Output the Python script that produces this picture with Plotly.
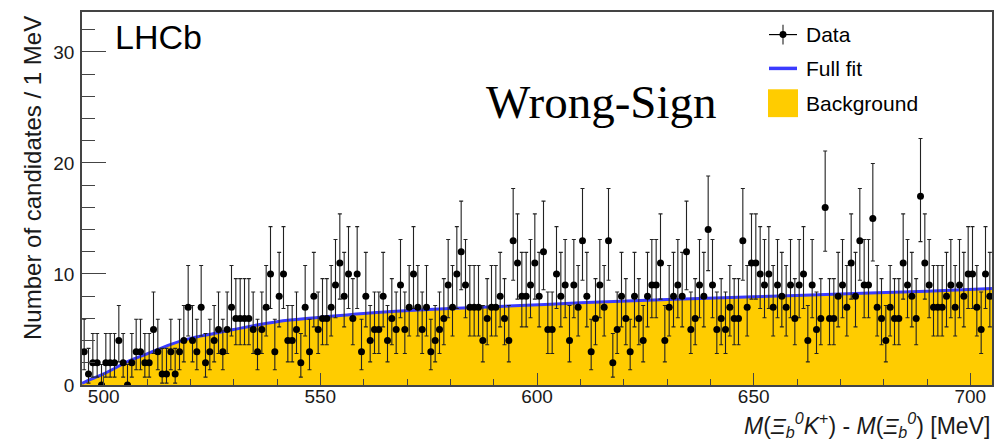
import math
import plotly.graph_objects as go

# ---------------- data ----------------
# candidates per 1 MeV bin, bins starting at 495 MeV
counts = [3, 1, 2, 2, 0, 2, 2, 2, 4, 2,
          0, 2, 3, 3, 2, 2, 5, 3, 1, 1,
          3, 1, 3, 4, 7, 4, 3, 7, 2, 3,
          4, 5, 3, 5, 7, 6, 6, 6, 6, 5,
          3, 5, 7, 10, 3, 8, 10, 4, 4, 5,
          2, 7, 3, 8, 5, 6, 6, 7, 9, 11,
          8, 10, 6, 10, 3, 8, 4, 5, 5, 8,
          4, 6, 5, 9, 5, 7, 10, 7, 5, 7,
          3, 4, 5, 6, 9, 7, 10, 12, 9, 7,
          7, 7, 4, 6, 7, 7, 8, 6, 4, 13,
          11, 8, 8, 9, 11, 8, 12, 5, 5, 10,
          8, 9, 4, 9, 7, 13, 8, 3, 6, 9,
          7, 13, 2, 5, 8, 6, 3, 8, 6, 4,
          8, 9, 9, 11, 4, 7, 8, 9, 8, 12,
          5, 6, 9, 8, 14, 9, 5, 6, 5, 7,
          6, 6, 13, 7, 11, 11, 10, 9, 10, 7,
          9, 8, 7, 9, 6, 9, 10, 4, 9, 5,
          6, 16, 6, 6, 8, 9, 7, 11, 8, 13,
          9, 9, 15, 7, 6, 4, 7, 6, 6, 11,
          9, 8, 6, 17, 11, 9, 7, 7, 7, 8,
          9, 7, 9, 8, 10, 10, 7, 5, 10, 8]
mass_start = 495.0
bin_width = 1.0

# fit curve
fit_mass = [495, 497, 500, 503, 506, 510, 515, 520, 525, 530, 540, 550,
            560, 575, 590, 610, 630, 650, 670, 690, 705]
fit_vals = [0.15, 0.5, 1.0, 1.6, 2.2, 2.8, 3.6, 4.2, 4.6, 5.0, 5.7, 6.1,
            6.45, 6.8, 7.05, 7.4, 7.7, 7.95, 8.2, 8.45, 8.7]
bkg_vals = fit_vals

x_range = [495, 705]
y_range = [0, 33.6]
x_ticks = [500, 550, 600, 650, 700]
y_ticks = [0, 10, 20, 30]

mass = [mass_start + bin_width * (i + 0.5) for i in range(len(counts))]


# Poisson (Garwood) 68.27% intervals for the data points
def pois_cdf(k, mu):
    if k < 0:
        return 0.0
    term = math.exp(-mu)
    s = term
    for j in range(1, k + 1):
        term *= mu / j
        s += term
    return s


def bisect(f, lo, hi):
    for _ in range(100):
        mid = 0.5 * (lo + hi)
        if f(lo) * f(mid) <= 0:
            hi = mid
        else:
            lo = mid
    return 0.5 * (lo + hi)


alpha = 0.5 * (1 - 0.6826895)
err_up, err_lo = [], []
for n in counts:
    U = bisect(lambda m: pois_cdf(n, m) - alpha, n, n + 20 + 6 * math.sqrt(n + 1))
    err_up.append(U - n)
    if n == 0:
        err_lo.append(0.0)
    else:
        L = bisect(lambda m: pois_cdf(n - 1, m) - (1 - alpha), 1e-9, n)
        err_lo.append(n - L)

YELLOW = "#FFCC00"
BLUE = "#3b3bff"
FRAME = "#444444"
TXT = "#1a1a1a"
SANS = "Liberation Sans, Arial, Helvetica, sans-serif"

fig = go.Figure()
fig.add_trace(go.Scatter(x=fit_mass, y=bkg_vals, mode="lines", line=dict(width=0, shape="spline"),
                         fill="tozeroy", fillcolor=YELLOW, name="Background"))
fig.add_trace(go.Scatter(x=fit_mass, y=fit_vals, mode="lines",
                         line=dict(color=BLUE, width=3, shape="spline"), name="Full fit"))
fig.add_trace(go.Scatter(x=mass, y=counts, mode="markers",
                         marker=dict(color="black", size=7),
                         error_y=dict(type="data", symmetric=False, array=err_up, arrayminus=err_lo,
                                      color="#222222", thickness=1.1, width=2),
                         name="Data"))

# plot-area geometry in pixels (for decorations)
L0, R0, T0, B0 = 82, 992, 10, 385


def px(x):
    return (x - L0) / (R0 - L0)


def py(y):
    return (B0 - y) / (B0 - T0)


shapes = []
ann = []
# legend (manual, ROOT-style)
leg_x0, leg_x1, text_x = 769, 797, 804
rows = [32.7, 66.7, 101.7]
# Data symbol: cross + dot
shapes.append(dict(type="line", xref="paper", yref="paper", x0=px(leg_x0), x1=px(leg_x1),
                   y0=py(rows[0]), y1=py(rows[0]), line=dict(color="black", width=1.2)))
shapes.append(dict(type="line", xref="paper", yref="paper", x0=px(783), x1=px(783),
                   y0=py(rows[0] - 10), y1=py(rows[0] + 10), line=dict(color="#333", width=1.2)))
shapes.append(dict(type="circle", xref="paper", yref="paper", x0=px(779.5), x1=px(786.5),
                   y0=py(rows[0] - 3.5), y1=py(rows[0] + 3.5), fillcolor="black",
                   line=dict(color="black", width=0)))
# Full fit symbol
shapes.append(dict(type="line", xref="paper", yref="paper", x0=px(leg_x0), x1=px(leg_x1),
                   y0=py(rows[1]), y1=py(rows[1]), line=dict(color=BLUE, width=3.5)))
# Background symbol
shapes.append(dict(type="rect", xref="paper", yref="paper", x0=px(768), x1=px(798),
                   y0=py(rows[2] - 14), y1=py(rows[2] + 14), fillcolor=YELLOW,
                   line=dict(color=YELLOW, width=0)))
for label, yy in zip(["Data", "Full fit", "Background"], rows):
    ann.append(dict(text=label, xref="paper", yref="paper", x=px(text_x), y=py(yy),
                    xanchor="left", yanchor="middle", showarrow=False,
                    font=dict(family=SANS, size=21, color="black")))

# LHCb label
ann.append(dict(text="LHCb", xref="paper", yref="paper", x=px(113), y=py(35),
                xanchor="left", yanchor="middle", showarrow=False,
                font=dict(family=SANS, size=34, color="black")))
# Wrong-Sign
ann.append(dict(text="Wrong-Sign", xref="paper", yref="paper", x=px(601), y=py(100),
                xanchor="center", yanchor="middle", showarrow=False,
                font=dict(family="Liberation Serif, Times New Roman, serif", size=47, color="black")))
# axis titles
ann.append(dict(text="Number of candidates / 1 MeV", xref="paper", yref="paper",
                x=px(33), y=py(12), xanchor="center", yanchor="top", textangle=-90,
                showarrow=False, font=dict(family=SANS, size=24, color=TXT)))
ann.append(dict(text="<i>M</i>(<i>Ξ</i><sub><i>b</i></sub><sup><i>0</i></sup><i>K</i><sup>+</sup>)"
                     " - <i>M</i>(<i>Ξ</i><sub><i>b</i></sub><sup><i>0</i></sup>) [MeV]",
                xref="paper", yref="paper", x=1.0, y=py(425), xanchor="right", yanchor="middle",
                showarrow=False, font=dict(family=SANS, size=23, color=TXT)))

fig.update_layout(
    width=1007, height=442,
    margin=dict(l=L0, r=1007 - R0, t=T0, b=442 - B0),
    plot_bgcolor="white", paper_bgcolor="white",
    showlegend=False,
    shapes=shapes, annotations=ann,
    font=dict(family=SANS, color=TXT),
)
fig.update_xaxes(range=x_range, tickvals=x_ticks, ticks="inside", ticklen=12, tickwidth=1.2,
                 tickcolor=FRAME, showline=True, linecolor=FRAME, linewidth=1.5, mirror=True,
                 showgrid=False, zeroline=False, tickfont=dict(size=19, color=TXT),
                 ticklabelstandoff=-7,
                 minor=dict(dtick=10, tick0=500, ticks="inside", ticklen=6, tickcolor=FRAME, tickwidth=1.2,
                            showgrid=False))
fig.update_yaxes(range=y_range, tickvals=y_ticks, ticks="inside", ticklen=24, tickwidth=1.2,
                 tickcolor=FRAME, showline=True, linecolor=FRAME, linewidth=1.5, mirror=True,
                 showgrid=False, zeroline=False, tickfont=dict(size=19, color=TXT),
                 ticklabelstandoff=2,
                 minor=dict(dtick=2, tick0=0, ticks="inside", ticklen=13, tickcolor=FRAME, tickwidth=1.2,
                            showgrid=False))

fig.write_html("out.html")
